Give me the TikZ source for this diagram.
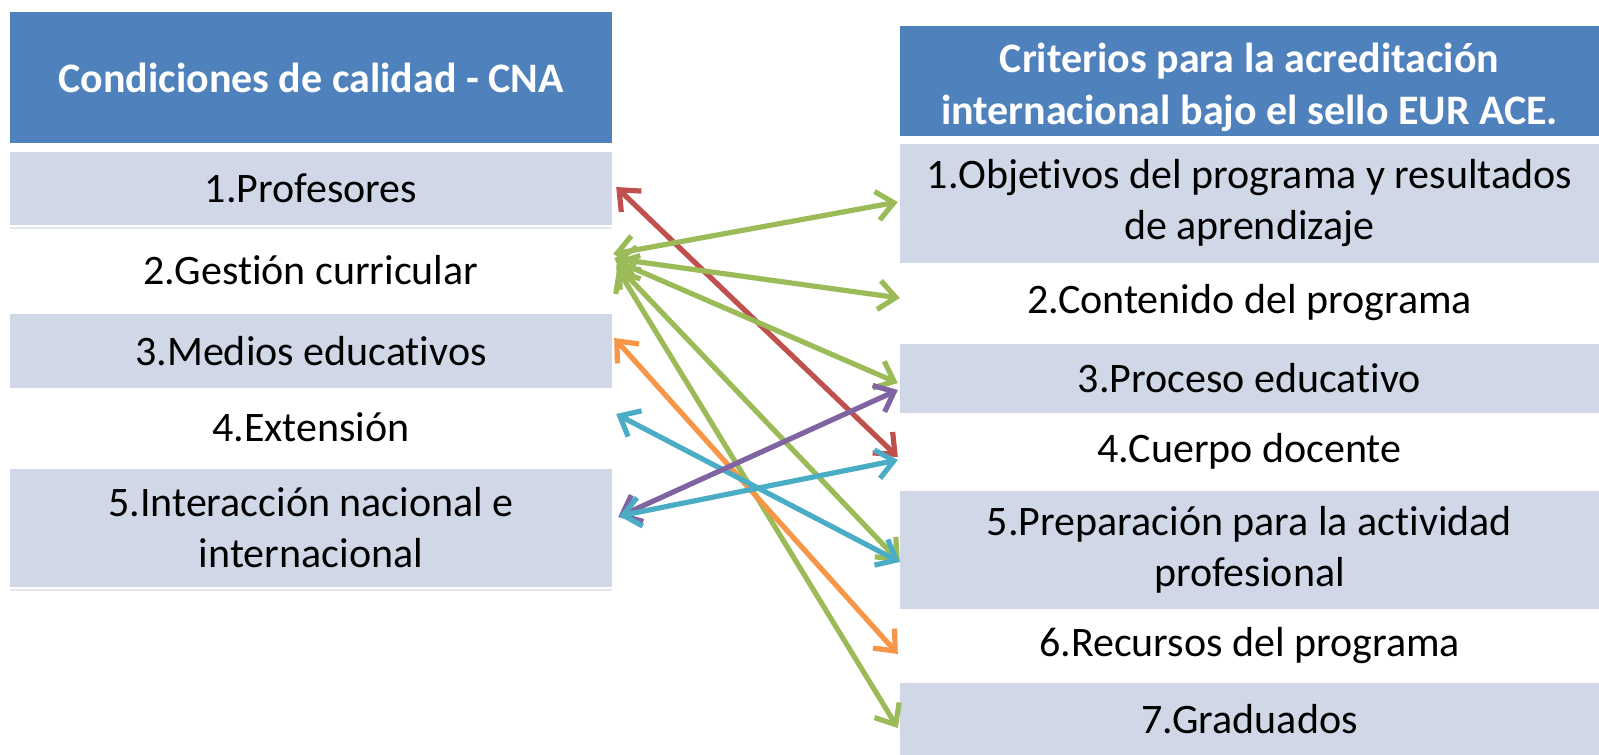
\documentclass[tikz,border=0pt]{standalone}
\usepackage{fontspec}
\setmainfont{Carlito}[Ligatures={NoCommon}, RawFeature={-liga;-calt;-dlig}]
\usetikzlibrary{arrows.meta}
\definecolor{hdr}{HTML}{4F81BD}
\definecolor{rowc}{HTML}{D0D8E8}
\definecolor{sepc}{HTML}{E3E8F1}
\definecolor{ared}{HTML}{C0504D}
\definecolor{agreen}{HTML}{9BBB59}
\definecolor{aorange}{HTML}{F79646}
\definecolor{ablue}{HTML}{4BACC6}
\definecolor{apurple}{HTML}{8064A2}
\begin{document}
\begin{tikzpicture}[x=1pt,y=-1pt,
  cell/.style={inner sep=0pt, align=center, font=\fontsize{42}{51}\selectfont, text=black},
  lcell/.style={cell, minimum width=602pt, minimum height=#1},
  rcell/.style={cell, minimum width=699pt, minimum height=#1},
  hdrcell/.style={fill=hdr, text=white, font=\fontsize{42}{52}\selectfont\bfseries},
  hdrtext/.style={cell, text=white, font=\fontsize{42}{52}\selectfont\bfseries},
  shaded/.style={fill=rowc},
  conn/.style={line width=5.2pt, <->, >={Straight Barb[length=17pt,width=29pt]}},
]
\useasboundingbox (0,0) rectangle (1599,755);
\fill[white] (0,0) rectangle (1599,755);
% left column
\node[lcell=131pt, hdrcell] (lh) at (311,77.5) {Condiciones de calidad - CNA};
\node[lcell=73pt, shaded] (l1) at (311,188.5) {1.Profesores};
\node[lcell=81pt] (l2) at (311,270.5) {2.Gestión curricular};
\node[lcell=74pt, shaded] (l3) at (311,351) {3.Medios educativos};
\node[lcell=79pt] (l4) at (311,427.5) {4.Extensión};
\node[lcell=118pt, shaded] (l5) at (311,528) {5.Interacción nacional e\\internacional};
\draw[sepc, line width=1.5pt] (10,228) -- (612,228);
\draw[sepc, line width=1.5pt] (10,590) -- (612,590);
% right column
\node[rcell=110pt, fill=hdr] (rh) at (1249.5,80.5) {};
\node[hdrtext] (rht) at (1249.5,87) {Criterios para la acreditación\\internacional bajo el sello EUR ACE.};
\node[rcell=119pt, shaded] (r1) at (1249.5,203.5) {1.Objetivos del programa y resultados\\de aprendizaje};
\node[rcell=80pt] (r2) at (1249.5,303) {2.Contenido del programa};
\node[rcell=69pt, shaded] (r3) at (1249.5,378) {3.Proceso educativo};
\node[rcell=77pt] (r4) at (1249.5,451.5) {4.Cuerpo docente};
\node[rcell=118pt, shaded] (r5) at (1249.5,550) {5.Preparación para la actividad\\profesional};
\node[rcell=74pt] (r6) at (1249.5,646) {6.Recursos del programa};
\node[rcell=72pt, shaded] (r7) at (1249.5,719) {7.Graduados};
% connectors
\draw[conn, ared] ([shift={(4,-1.5)}]l1.east) -- ([shift={(-2,5.5)}]r4.west);
\draw[conn, agreen] ([shift={(1,-16.5)}]l2.east) -- ([shift={(-2,-1.5)}]r1.west);
\draw[conn, agreen] ([shift={(2,-12)}]l2.east) -- ([shift={(0,-5)}]r2.west);
\draw[conn, agreen] ([shift={(3,-10)}]l2.east) -- ([shift={(-2,5)}]r3.west);
\draw[conn, agreen] ([shift={(4,-6)}]l2.east) -- ([shift={(0,12)}]r5.west);
\draw[conn, agreen] ([shift={(5,-2)}]l2.east) -- ([shift={(-2,9)}]r7.west);
\draw[conn, aorange] ([shift={(2,-13)}]l3.east) -- ([shift={(-2,8)}]r6.west);
\draw[conn, ablue] ([shift={(4,-13.5)}]l4.east) -- ([shift={(0,12)}]r5.west);
\draw[conn, apurple] ([shift={(6,-11)}]l5.east) -- ([shift={(-2,12)}]r3.west);
\draw[conn, ablue] ([shift={(7,-12)}]l5.east) -- ([shift={(-2,8.5)}]r4.west);
\end{tikzpicture}
\end{document}
